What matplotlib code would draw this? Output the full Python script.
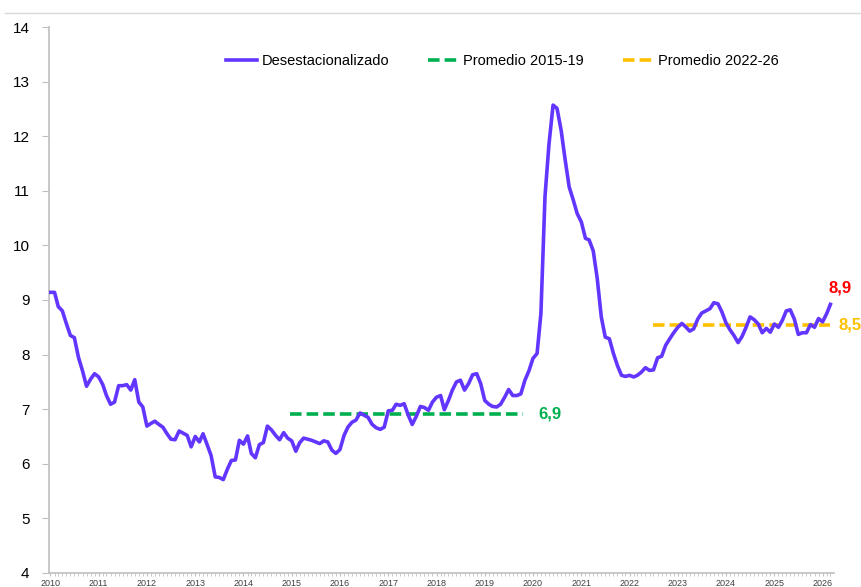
import numpy as np
import pandas as pd
import matplotlib as mpl
mpl.use('Agg')
import matplotlib.pyplot as plt
import matplotlib.dates as mdates
from matplotlib.lines import Line2D

mpl.rcParams.update({
    'font.family': ['Liberation Sans', 'DejaVu Sans'],
})

# Tasa de desocupación desestacionalizada, mensual desde ene-2010
tasa = [
    9.14, 9.14, 8.88, 8.80, 8.57, 8.35, 8.31, 7.95, 7.70, 7.42, 7.55, 7.65,   # 2010
    7.59, 7.45, 7.25, 7.09, 7.13, 7.43, 7.43, 7.45, 7.35, 7.54, 7.13, 7.04,   # 2011
    6.69, 6.74, 6.78, 6.72, 6.67, 6.55, 6.45, 6.44, 6.60, 6.56, 6.52, 6.31,   # 2012
    6.50, 6.40, 6.55, 6.35, 6.15, 5.76, 5.75, 5.71, 5.90, 6.06, 6.07, 6.43,   # 2013
    6.36, 6.51, 6.19, 6.11, 6.35, 6.39, 6.69, 6.62, 6.52, 6.44, 6.57, 6.47,   # 2014
    6.42, 6.23, 6.38, 6.47, 6.45, 6.43, 6.40, 6.37, 6.42, 6.40, 6.25, 6.19,   # 2015
    6.26, 6.52, 6.67, 6.76, 6.80, 6.93, 6.89, 6.85, 6.72, 6.66, 6.63, 6.67,   # 2016
    6.97, 6.98, 7.09, 7.07, 7.10, 6.89, 6.72, 6.87, 7.05, 7.03, 6.98, 7.13,   # 2017
    7.22, 7.25, 6.99, 7.16, 7.35, 7.50, 7.53, 7.35, 7.47, 7.63, 7.65, 7.47,   # 2018
    7.16, 7.09, 7.05, 7.04, 7.09, 7.22, 7.36, 7.25, 7.25, 7.28, 7.53, 7.70,   # 2019
    7.93, 8.02, 8.75, 10.90, 11.85, 12.57, 12.51, 12.11, 11.56, 11.07, 10.83, 10.58,  # 2020
    10.43, 10.13, 10.10, 9.90, 9.40, 8.69, 8.32, 8.29, 8.02, 7.80, 7.62, 7.60,  # 2021
    7.62, 7.59, 7.62, 7.68, 7.76, 7.71, 7.72, 7.94, 7.97, 8.17, 8.29, 8.40,   # 2022
    8.50, 8.57, 8.51, 8.43, 8.47, 8.65, 8.76, 8.80, 8.84, 8.95, 8.93, 8.78,   # 2023
    8.58, 8.45, 8.35, 8.22, 8.33, 8.50, 8.69, 8.64, 8.56, 8.40, 8.48, 8.41,   # 2024
    8.56, 8.50, 8.62, 8.80, 8.82, 8.65, 8.37, 8.40, 8.40, 8.55, 8.50, 8.66,   # 2025
    8.60, 8.75, 8.92,                                                          # 2026
]
meses = pd.date_range('2010-01-01', periods=len(tasa), freq='MS')

# promedios (periodo dibujado y valor)
prom_1519_periodo = ['2014-12-20', '2019-10-15']
prom_1519 = 6.92
prom_2226_periodo = ['2022-06-25', '2026-02-25']
prom_2226 = 8.54

morado = '#6236FF'
verde = '#00B050'
amarillo = '#FFC000'
rojo = '#FF0000'

fig = plt.figure(figsize=(8.61, 5.87), dpi=100)
ax = fig.add_axes([0.0569, 0.0239, 0.9117, 0.9301])

ax.plot(meses, tasa, color=morado, lw=2.6, label='Desestacionalizado',
        solid_joinstyle='round', zorder=3)
x1 = pd.to_datetime(prom_1519_periodo)
ax.plot(x1, [prom_1519] * 2, color=verde, lw=2.6, dashes=(3.2, 1.4),
        label='Promedio 2015-19', zorder=2)
x2 = pd.to_datetime(prom_2226_periodo)
ax.plot(x2, [prom_2226] * 2, color=amarillo, lw=2.6, dashes=(3.2, 1.4),
        label='Promedio 2022-26', zorder=2)

fmt = lambda v: f'{v:.1f}'.replace('.', ',')
ax.annotate(fmt(prom_1519), xy=(x1[-1], prom_1519), xytext=(11.5, 0),
            textcoords='offset points', ha='left', va='center',
            color=verde, fontsize=12, fontweight='bold', annotation_clip=False)
ax.annotate(fmt(prom_2226), xy=(x2[-1], prom_2226), xytext=(6.5, 0),
            textcoords='offset points', ha='left', va='center',
            color=amarillo, fontsize=12, fontweight='bold', annotation_clip=False)
ax.annotate(fmt(tasa[-1]), xy=(meses[-1], tasa[-1]), xytext=(7, 11.5),
            textcoords='offset points', ha='center', va='center',
            color=rojo, fontsize=12, fontweight='bold', annotation_clip=False)

ax.set_ylim(4, 14)
ax.set_yticks(np.arange(4, 15, 1))
ax.set_xlim(pd.Timestamp('2009-12-21'), pd.Timestamp('2026-03-28'))
ax.xaxis.set_major_locator(mdates.YearLocator())
ax.xaxis.set_major_formatter(mdates.DateFormatter('%Y'))
ax.xaxis.set_minor_locator(mdates.MonthLocator())

for s in ['top', 'right']:
    ax.spines[s].set_visible(False)
for s in ['left', 'bottom']:
    ax.spines[s].set_color('#BFBFBF')
    ax.spines[s].set_linewidth(1.2)

ax.tick_params(axis='y', length=5, color='#BFBFBF', labelsize=11, pad=9,
               labelcolor='#000000')
ax.tick_params(axis='x', which='major', length=2.5, color='#BFBFBF',
               labelsize=6.5, pad=2, labelcolor='#404040')
ax.tick_params(axis='x', which='minor', length=2, color='#BFBFBF')

ax.legend(loc='center', bbox_to_anchor=(0.578, 0.938), ncol=3, frameon=False,
          fontsize=10.5, handlelength=2.1, handletextpad=0.3,
          columnspacing=2.7)

fig.add_artist(Line2D([5 / 861, 860 / 861], [0.978, 0.978],
                      color='#D9D9D9', lw=1))

fig.savefig('out.png', dpi=100)
